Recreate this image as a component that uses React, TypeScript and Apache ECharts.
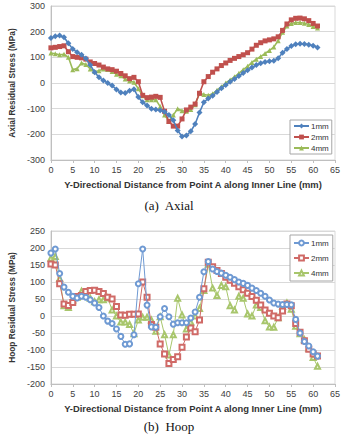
import React, { useEffect, useRef } from "react";
import * as echarts from "echarts";

const distance = [
  0, 1, 2, 3, 4, 5, 6, 7, 8, 9, 10, 11, 12, 13, 14, 15, 16, 17, 18, 19, 20,
  21, 22, 23, 24, 25, 26, 27, 28, 29, 30, 31, 32, 33, 34, 35, 36, 37, 38, 39, 40,
  41, 42, 43, 44, 45, 46, 47, 48, 49, 50, 51, 52, 53, 54, 55, 56, 57, 58, 59, 60, 61,
];

const axial1mm = [
  175, 182, 185, 178, 155, 132, 120, 110, 95, 70, 42, 22, 10, 0, -10, -25, -37, -39, -30, -24, -55,
  -75, -88, -100, -103, -106, -112, -125, -145, -185, -208, -205, -188, -160, -115, -75, -60, -50, -35, -20, -8,
  5, 16, 27, 39, 50, 60, 70, 77, 82, 85, 87, 96, 118, 132, 144, 151, 153, 152, 149, 145, 138,
];
const axial2mm = [
  137, 139, 142, 145, 122, 103, 100, 98, 93, 82, 76, 70, 62, 55, 52, 46, 37, 28, 17, 22, 5,
  -48, -57, -55, -52, -56, -110, -150, -168, -168, -140, -105, -94, -82, -40, 5, 25, 42, 55, 68, 78,
  88, 96, 103, 110, 118, 132, 147, 157, 164, 168, 172, 180, 205, 230, 246, 252, 253, 250, 243, 232, 222,
];
const axial4mm = [
  117, 114, 110, 112, 100, 52, 56, 78, 72, 55, 45, 48, 55, 53, 45, 34, 28, 16, 8, 3, -22,
  -50, -65, -65, -65, -92, -125, -148, -125, -100, -108, -110, -103, -85, -40, -45, -48, -42, -28, -15, 0,
  12, 24, 38, 52, 65, 80, 93, 103, 115, 127, 140, 165, 198, 222, 232, 236, 236, 233, 228, 220, 214,
];

const hoop1mm = [
  185, 197, 125, 85, 70, 58, 53, 58, 55, 48, 38, 25, 0, -15, -22, -38, -60, -83, -82, -55, 95,
  197, 32, -32, -33, -2, 22, -2, -24, -20, -20, -20, -6, 12, 55, 130, 160, 138, 131, 126, 120,
  114, 107, 100, 96, 90, 82, 75, 67, 58, 47, 38, 35, 34, 34, 33, -10, -50, -75, -88, -105, -118,
];
const hoop2mm = [
  153, 150, 95, 35, 31, 40, 57, 60, 72, 75, 76, 72, 66, 55, 50, 28, 3, 2, 5, 5, 6,
  100, 55, -25, -33, -82, -112, -140, -128, -120, -92, -62, -35, -46, -12, 80, 158, 145, 134, 125, 114,
  105, 96, 86, 77, 67, 57, 46, 32, 18, 8, 0, -5, 15, 35, 30, -22, -48, -73, -98, -112, -118,
];
const hoop4mm = [
  170, 175, 110, 30, 25, 47, 55, 73, 60, 52, 42, 48, 48, 53, 18, 0, -18, -18, -25, -52, -12,
  -4, -4, -12, -45, -2, -55, -115, -55, 52, 3, -38, -18, 0, 22, 75, 152, 82, 60, 90, 86,
  30, 18, 58, 52, 6, 0, 32, 25, -14, -32, -33, -5, 28, 38, 20, -30, -52, -70, -95, -122, -148,
];

const seriesNames = ["1mm", "2mm", "4mm"];
const xTitle = "Y-Directional Distance from Point A along Inner Line (mm)";
const axialTitle = "Axial Residual Stress (MPa)";
const hoopTitle = "Hoop Residual Stress (MPa)";
const captionA = "(a)  Axial";
const captionB = "(b)  Hoop";

const COLORS = ["#4F81BD", "#C0504D", "#9BBB59"];
const LIGHT = ["#6F9AD3", "#D06A67", "#A8C66C"];
const FONT = "'Liberation Sans', Arial, sans-serif";

const pairs = (vals: number[]) => distance.map((d, i) => [d, vals[i]]);

export default function App() {
  const ref = useRef<HTMLDivElement>(null);
  useEffect(() => {
    document.body.style.margin = "0";
    if (!ref.current) return;
    const chart = echarts.init(ref.current, null, { renderer: "svg" });

    const xAxisBase = (gridIndex: number) => ({
      gridIndex,
      type: "value",
      min: 0,
      max: 65,
      interval: 5,
      name: xTitle,
      nameLocation: "middle",
      nameGap: 20,
      nameTextStyle: { fontFamily: FONT, fontWeight: "bold", fontSize: 9.4, color: "#333" },
      axisLine: { show: true, onZero: false, lineStyle: { color: "#bfbfbf" } },
      axisTick: { show: true, length: 3, lineStyle: { color: "#bfbfbf" } },
      axisLabel: { fontFamily: FONT, fontSize: 9, color: "#404040", margin: 5 },
      splitLine: { show: false },
    });
    const yAxisBase = (gridIndex: number, min: number, max: number, interval: number, name: string) => ({
      gridIndex,
      type: "value",
      min,
      max,
      interval,
      name,
      nameLocation: "middle",
      nameGap: 31,
      nameTextStyle: { fontFamily: FONT, fontWeight: "bold", fontSize: 8.3, color: "#333" },
      axisLine: { show: true, lineStyle: { color: "#bfbfbf" } },
      axisTick: { show: false },
      axisLabel: { fontFamily: FONT, fontSize: 9, color: "#404040", margin: 6 },
      splitLine: { show: true, lineStyle: { color: "#d9d9d9", width: 1 } },
    });

    const topSymbols = ["diamond", "rect", "triangle"];
    const botSymbols = ["emptyCircle", "emptyRect", "emptyTriangle"];
    const axial = [axial1mm, axial2mm, axial4mm];
    const hoop = [hoop1mm, hoop2mm, hoop4mm];

    const series: any[] = [];
    axial.forEach((vals, i) => {
      series.push({
        type: "line",
        name: seriesNames[i],
        xAxisIndex: 0,
        yAxisIndex: 0,
        data: pairs(vals),
        symbol: topSymbols[i],
        symbolSize: i === 0 ? 6 : 5,
        showSymbol: true,
        lineStyle: { color: COLORS[i], width: 1.6 },
        itemStyle: { color: COLORS[i] },
        z: 5 - i,
      });
    });
    hoop.forEach((vals, i) => {
      series.push({
        type: "line",
        name: "h" + seriesNames[i],
        xAxisIndex: 1,
        yAxisIndex: 1,
        data: pairs(vals),
        symbol: botSymbols[i],
        symbolSize: 5,
        showSymbol: true,
        lineStyle: { color: LIGHT[i], width: 1 },
        itemStyle: { color: LIGHT[i], borderWidth: 0.8 },
        z: 5 - i,
      });
    });

    const legendBase = {
      orient: "vertical",
      backgroundColor: "#fff",
      borderColor: "#a6a6a6",
      borderWidth: 1,
      padding: [2, 3, 2, 3],
      itemGap: 3,
      itemWidth: 15,
      itemHeight: 6,
      textStyle: { fontFamily: FONT, fontSize: 8, color: "#333", padding: [0, 0, 0, -3] },
    };

    const option: any = {
      animation: false,
      backgroundColor: "#fff",
      grid: [
        { left: 42, top: 6, width: 293, height: 154, show: true, borderColor: "#d9d9d9", borderWidth: 1 },
        { left: 42, top: 231, width: 293, height: 153, show: true, borderColor: "#d9d9d9", borderWidth: 1 },
      ],
      xAxis: [xAxisBase(0), xAxisBase(1)],
      yAxis: [
        yAxisBase(0, -300, 300, 100, axialTitle),
        yAxisBase(1, -200, 250, 50, hoopTitle),
      ],
      legend: [
        { ...legendBase, left: 290, top: 120, data: seriesNames },
        {
          ...legendBase,
          left: 290,
          top: 235,
          padding: [4, 4, 4, 3],
          itemGap: 7,
          data: seriesNames.map((n) => "h" + n),
          formatter: (n: string) => n.slice(1),
        },
      ],
      graphic: [
        {
          type: "text",
          x: 169,
          y: 205,
          style: {
            text: captionA,
            font: "13px 'Liberation Serif', 'Times New Roman', serif",
            fill: "#111",
            textAlign: "center",
            textVerticalAlign: "middle",
          },
        },
        {
          type: "text",
          x: 169,
          y: 426,
          style: {
            text: captionB,
            font: "13px 'Liberation Serif', 'Times New Roman', serif",
            fill: "#111",
            textAlign: "center",
            textVerticalAlign: "middle",
          },
        },
      ],
      series,
    };
    chart.setOption(option);
    return () => chart.dispose();
  }, []);
  return <div ref={ref} style={{ width: 344, height: 448 }} />;
}
